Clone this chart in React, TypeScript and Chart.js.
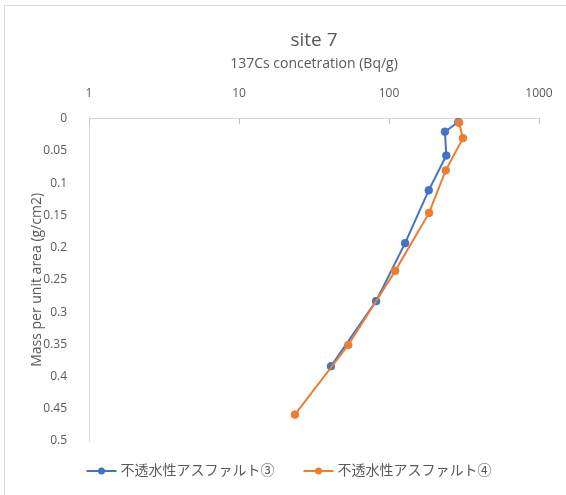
import React, { useEffect, useRef } from 'react';
import { Chart, registerables } from 'chart.js';

Chart.register(...registerables);

const chartTitle = 'site 7';
const xAxisTitle = '137Cs concetration (Bq/g)';
const yAxisTitle = 'Mass per unit area (g/cm2)';
const seriesNames = ['不透水性アスファルト③', '不透水性アスファルト④'];
const seriesColors = ['#4472C4', '#ED7D31'];

// series 1 (③): concentration (Bq/g) vs mass per unit area (g/cm2)
const blueConc = [290, 236, 241, 184, 128, 82, 41];
const blueMass = [0.005, 0.02, 0.057, 0.111, 0.193, 0.283, 0.384];
// series 2 (④)
const orangeConc = [293, 311, 239, 185, 110, 53.5, 23.6];
const orangeMass = [0.006, 0.03, 0.08, 0.146, 0.236, 0.351, 0.459];

const xTicks = [1, 10, 100, 1000];
const yTicks = [0, 0.05, 0.1, 0.15, 0.2, 0.25, 0.3, 0.35, 0.4, 0.45, 0.5];

const FONT = "'Open Sans', 'Noto Sans CJK JP', sans-serif";
const TEXT = '#595959';

const innerTicks = {
  id: 'innerTicks',
  afterDraw(chart: any) {
    const x = chart.scales.x;
    const ctx = chart.ctx;
    ctx.save();
    ctx.strokeStyle = '#BFBFBF';
    ctx.lineWidth = 1;
    for (const v of xTicks) {
      const px = Math.round(x.getPixelForValue(v)) + 0.5;
      ctx.beginPath();
      ctx.moveTo(px, x.bottom);
      ctx.lineTo(px, x.bottom + 5);
      ctx.stroke();
    }
    ctx.restore();
  },
};

// Excel-style legend: short line with a marker, then the series name
const lineLegend = {
  id: 'lineLegend',
  afterDraw(chart: any) {
    const ctx = chart.ctx;
    ctx.save();
    ctx.font = `14px ${FONT}`;
    ctx.textBaseline = 'middle';
    const cy = 471;
    const lineW = 30;
    const gapText = 4;
    const gapItem = 29;
    const widths = seriesNames.map((n) => lineW + gapText + ctx.measureText(n).width);
    const total = widths.reduce((a, b) => a + b, 0) + gapItem * (seriesNames.length - 1);
    let x = 289 - total / 2;
    seriesNames.forEach((name, i) => {
      const color = seriesColors[i];
      ctx.strokeStyle = color;
      ctx.lineWidth = 2;
      ctx.beginPath();
      ctx.moveTo(x, cy);
      ctx.lineTo(x + lineW, cy);
      ctx.stroke();
      ctx.fillStyle = color;
      ctx.beginPath();
      ctx.arc(x + lineW / 2, cy, 3.5, 0, Math.PI * 2);
      ctx.fill();
      ctx.fillStyle = TEXT;
      ctx.textAlign = 'left';
      ctx.fillText(name, x + lineW + gapText, cy);
      x += widths[i] + gapItem;
    });
    ctx.restore();
  },
};

export default function App() {
  const ref = useRef<HTMLCanvasElement>(null);
  useEffect(() => {
    if (!ref.current) return;
    const toPts = (xs: number[], ys: number[]) => xs.map((x, i) => ({ x, y: ys[i] }));
    const chart = new Chart(ref.current, {
      type: 'line',
      data: {
        datasets: [
          {
            label: seriesNames[0],
            data: toPts(blueConc, blueMass),
            borderColor: seriesColors[0],
            backgroundColor: seriesColors[0],
            borderWidth: 2,
            pointRadius: 3.8,
            pointBorderWidth: 1,
            order: 2,
            clip: false,
          },
          {
            label: seriesNames[1],
            data: toPts(orangeConc, orangeMass),
            borderColor: seriesColors[1],
            backgroundColor: seriesColors[1],
            borderWidth: 2,
            pointRadius: 3.8,
            pointBorderWidth: 1,
            order: 1,
            clip: false,
          },
        ],
      },
      options: {
        responsive: false,
        animation: false,
        devicePixelRatio: 1,
        layout: { padding: { left: 0, right: 27, top: 0, bottom: 54 } },
        plugins: {
          title: {
            display: true,
            fullSize: false,
            text: chartTitle,
            color: TEXT,
            font: { family: FONT, size: 19, weight: 'normal' },
            padding: { top: 29, bottom: 0 },
          },
          legend: { display: false },
          tooltip: { enabled: false },
        },
        scales: {
          x: {
            type: 'logarithmic',
            position: 'top',
            min: 1,
            max: 1000,
            grid: { display: false },
            border: { display: true, color: '#D9D9D9', width: 1 },
            afterBuildTicks: (s: any) => {
              s.ticks = xTicks.map((v) => ({ value: v }));
            },
            afterFit: (s: any) => {
              s.height = 67;
            },
            ticks: {
              color: TEXT,
              padding: 10,
              maxRotation: 0,
              autoSkip: false,
              font: { family: FONT, size: 12 },
              callback: (v: any) => String(v),
            },
            title: {
              display: true,
              text: xAxisTitle,
              color: TEXT,
              font: { family: FONT, size: 14 },
              padding: { top: 4, bottom: 0 },
            },
          },
          y: {
            type: 'linear',
            reverse: true,
            min: 0,
            max: 0.5,
            grid: { display: false },
            border: { display: true, color: '#D9D9D9', width: 1 },
            afterBuildTicks: (s: any) => {
              s.ticks = yTicks.map((v) => ({ value: v }));
            },
            afterFit: (s: any) => {
              s.width = 89;
            },
            ticks: {
              color: TEXT,
              padding: 14,
              autoSkip: false,
              font: { family: FONT, size: 12 },
              callback: (v: any) => String(Number(Number(v).toFixed(2))),
            },
            title: {
              display: true,
              text: yAxisTitle,
              color: TEXT,
              font: { family: FONT, size: 14 },
              padding: { top: 28.6, bottom: 0 },
            },
          },
        },
      } as any,
      plugins: [innerTicks, lineLegend],
    });
    return () => chart.destroy();
  }, []);

  return (
    <div
      style={{
        position: 'absolute',
        left: 0,
        top: 0,
        width: 566,
        height: 495,
        overflow: 'hidden',
        background: '#fff',
      }}
    >
      <div
        style={{
          position: 'absolute',
          left: 4,
          top: 5,
          width: 600,
          height: 600,
          border: '1px solid #D9D9D9',
          boxSizing: 'border-box',
        }}
      />
      <canvas ref={ref} width={566} height={495} style={{ position: 'absolute', left: 0, top: 0 }} />
    </div>
  );
}
